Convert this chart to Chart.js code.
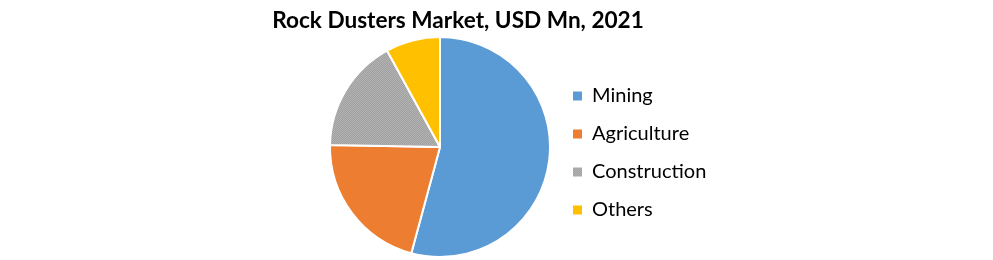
<!DOCTYPE html>
<html>
<head>
<meta charset="utf-8">
<script src="https://cdn.jsdelivr.net/npm/chart.js@4"></script>
<style>
  html, body { margin: 0; padding: 0; background: #fff; }
  #wrap { position: relative; width: 993px; height: 260px; }
</style>
</head>
<body>
<div id="wrap"><canvas id="c" width="993" height="260"></canvas></div>
<script>
const TITLE = 'Rock Dusters Market, USD Mn, 2021';
const categories = ['Mining', 'Agriculture', 'Construction', 'Others'];
const values = [54.2, 21.1, 16.7, 8.0];
const colors = ['#5B9BD5', '#ED7D31', null, '#FFC000'];

const canvas = document.getElementById('c');
const ctx = canvas.getContext('2d');

// fine dotted gray texture for "Construction"
const pc = document.createElement('canvas');
pc.width = 2; pc.height = 2;
const pg = pc.getContext('2d');
pg.fillStyle = '#a0a0a0'; pg.fillRect(0, 0, 2, 2);
pg.fillStyle = '#b3b3b3'; pg.fillRect(0, 0, 1, 1); pg.fillRect(1, 1, 1, 1);
colors[2] = ctx.createPattern(pc, 'repeat');

const FONT = 'Lato, "Open Sans", sans-serif';
const legendFontSize = 20;
const legendPad = 18;
const boxW = 9;

ctx.font = legendFontSize + 'px ' + FONT;
let maxText = 0;
categories.forEach(t => { maxText = Math.max(maxText, ctx.measureText(t).width); });
const boxX = 574;
const colW = boxW + legendFontSize / 2 + maxText;
const rightPad = Math.max(0, 993 - (boxX - legendPad / 2 + legendPad + colW));
const legendEdge = boxX - legendPad - 1;
const pieCx = 440;
const leftPad = 2 * pieCx - legendEdge;

const titlePlugin = {
  id: 'customTitle',
  afterDraw(chart) {
    const c = chart.ctx;
    c.save();
    c.font = 'bold 22.6px ' + FONT;
    c.fillStyle = '#000';
    c.textAlign = 'center';
    c.textBaseline = 'alphabetic';
    c.fillText(TITLE, 458, 28);
    c.restore();
  }
};

new Chart(canvas, {
  type: 'pie',
  data: {
    labels: categories,
    datasets: [{
      data: values,
      backgroundColor: colors,
      borderColor: '#ffffff',
      borderWidth: 2
    }]
  },
  options: {
    responsive: false,
    animation: false,
    layout: { padding: { left: leftPad, right: rightPad, top: 36, bottom: 2 } },
    plugins: {
      tooltip: { enabled: false },
      title: { display: false },
      legend: {
        position: 'right',
        align: 'center',
        title: { display: true, text: '', padding: 0, font: { size: 10, lineHeight: 1.2 } },
        labels: {
          boxWidth: boxW,
          boxHeight: boxW,
          padding: legendPad,
          color: '#000',
          font: { family: FONT, size: legendFontSize },
          generateLabels(chart) {
            const items = Chart.overrides.pie.plugins.legend.labels.generateLabels(chart);
            items.forEach(it => { it.lineWidth = 0; it.strokeStyle = 'rgba(0,0,0,0)'; });
            return items;
          }
        }
      }
    }
  },
  plugins: [titlePlugin]
});
</script>
</body>
</html>
